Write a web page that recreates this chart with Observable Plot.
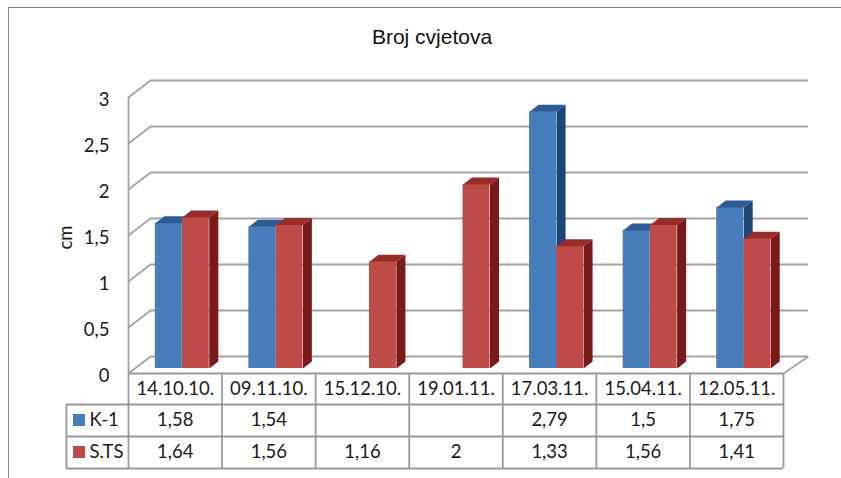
<!DOCTYPE html>
<html><head><meta charset="utf-8">
<script src="https://cdn.jsdelivr.net/npm/d3@7"></script>
<script src="https://cdn.jsdelivr.net/npm/@observablehq/plot@0.6"></script>
<style>
html,body{margin:0;padding:0;background:#fff;}
#wrap{position:relative;width:841px;height:478px;overflow:hidden;background:#fff;}
#frame{position:absolute;left:8px;top:7px;right:-3px;bottom:-3px;border-top:1.5px solid #8a8a8a;border-left:1.5px solid #8a8a8a;}
#title{position:absolute;top:26px;left:432px;transform:translateX(-50%);font:21px/21px "Liberation Sans",Arial,sans-serif;color:#111;white-space:nowrap;}
#chart{position:absolute;left:0;top:0;}
</style></head><body>
<div id="wrap"><div id="frame"></div><div id="chart"></div><div id="title"></div></div>
<script>
// ---- data ----
const chartTitle = "Broj cvjetova";
const yLabel = "cm";
const categories = ["14.10.10.", "09.11.10.", "15.12.10.", "19.01.11.", "17.03.11.", "15.04.11.", "12.05.11."];
const seriesNames = ["K-1", "S.TS"];
const k1Values = [1.58, 1.54, null, null, 2.79, 1.5, 1.75];
const stsValues = [1.64, 1.56, 1.16, 2, 1.33, 1.56, 1.41];
const yTicks = [0, 0.5, 1, 1.5, 2, 2.5, 3];

// ---- layout ----
const W = 841, H = 478, mL = 128, mR = 58, mT = 97, mB = 105;
const yMax = 3;
const kx = (W - mL - mR) / categories.length; // px per category
const ky = (H - mT - mB) / yMax;                // px per unit
const px = p => p / kx, py = p => p / ky;
const x0 = -0.5, xN = categories.length - 0.5;
const wallX = px(22), wallXR = px(25), wallY = py(17); // back wall depth
const barBase = py(5), barW = 27, barStart = -20, depX = px(9), depY = py(7);
const fmt = v => v == null ? "" : String(v).replace(".", ",");

const palette = [
  {front: "#467DBA", top: "#2D5C93", side: "#1D4674"},
  {front: "#BE4B48", top: "#972C2A", side: "#771A19"}
];
const seriesValues = [k1Values, stsValues];

document.getElementById("title").textContent = chartTitle;

const marks = [];
// back wall gridlines
marks.push(Plot.ruleY(yTicks, {y: d => d + wallY, x1: x0 + wallX, x2: xN + wallXR, stroke: "#a3a3a3", strokeWidth: 1.8}));
// diagonal tick connectors
marks.push(Plot.link(yTicks, {x1: x0, y1: d => d, x2: x0 + wallX, y2: d => d + wallY, stroke: "#a3a3a3", strokeWidth: 1.8}));
// floor right edge
marks.push(Plot.link([0], {x1: xN, y1: d => d, x2: xN + wallXR, y2: d => d + wallY, stroke: "#a3a3a3", strokeWidth: 1.8}));
// front axis
marks.push(Plot.ruleX([x0], {y1: 0, y2: yMax, stroke: "#a3a3a3", strokeWidth: 1.8}));

// bars
seriesValues.forEach((vals, si) => {
  const fronts = [], tops = [], sides = [];
  vals.forEach((v, i) => {
    if (v == null) return;
    const a = i + px(barStart + barW * si), b = i + px(barStart + barW * (si + 1));
    const yb = barBase, yt = v + barBase;
    fronts.push({x1: a, x2: b, y1: yb, y2: yt});
    const id = `${si}-${i}`;
    tops.push({id, x: a, y: yt}, {id, x: b, y: yt}, {id, x: b + depX, y: yt + depY}, {id, x: a + depX, y: yt + depY});
    sides.push({id, x: b, y: yb}, {id, x: b, y: yt}, {id, x: b + depX, y: yt + depY}, {id, x: b + depX, y: yb + depY});
  });
  marks.push(Plot.line(sides, {x: "x", y: "y", z: "id", fill: palette[si].side, stroke: "none"}));
  marks.push(Plot.rect(fronts, {x1: "x1", x2: "x2", y1: "y1", y2: "y2", fill: palette[si].front}));
  marks.push(Plot.line(tops, {x: "x", y: "y", z: "id", fill: palette[si].top, stroke: "none"}));
});

// data table
const rowEdges = [0, -py(31), -py(63), -py(95)];
const legendLeft = x0 - px(62);
const gridC = "#9a9a9a";
marks.push(Plot.ruleY([rowEdges[0]], {y: d => d, x1: x0, x2: xN, stroke: gridC, strokeWidth: 1.8}));
marks.push(Plot.ruleY(rowEdges.slice(1), {y: d => d, x1: legendLeft, x2: xN, stroke: gridC, strokeWidth: 1.8}));
marks.push(Plot.ruleX([legendLeft], {y1: rowEdges[1], y2: rowEdges[3], stroke: gridC, strokeWidth: 1.8}));
marks.push(Plot.ruleX(d3.range(categories.length + 1).map(k => x0 + k), {y1: rowEdges[0], y2: rowEdges[3], stroke: gridC, strokeWidth: 1.8}));
const rowMid = k => (rowEdges[k] + rowEdges[k + 1]) / 2;
marks.push(Plot.text(categories, {x: (d, i) => i, y: rowMid(0), text: d => d, fill: "#1a1a1a"}));
seriesValues.forEach((vals, si) => {
  marks.push(Plot.text(vals, {x: (d, i) => i, y: rowMid(si + 1), text: d => fmt(d), fill: "#1a1a1a"}));
});
// legend keys
marks.push(Plot.rect(seriesNames, {x1: x0 - px(55), x2: x0 - px(43), y1: (d, i) => rowMid(i + 1) - py(6), y2: (d, i) => rowMid(i + 1) + py(6), fill: (d, i) => palette[i].front}));
marks.push(Plot.text(seriesNames, {x: x0 - px(39), y: (d, i) => rowMid(i + 1), text: d => d, textAnchor: "start", fill: "#1a1a1a"}));

// y axis labels
marks.push(Plot.axisY(yTicks, {tickSize: 0, tickPadding: 19, tickFormat: fmt, dy: 3, fill: "#1a1a1a", label: null}));
// y title
marks.push(Plot.text([yLabel], {x: x0 - px(62), y: py(136), text: d => d, rotate: -90, fill: "#1a1a1a"}));

const chart = Plot.plot({
  width: W, height: H,
  marginLeft: mL, marginRight: mR, marginTop: mT, marginBottom: mB,
  x: {type: "linear", domain: [x0, xN], axis: null},
  y: {type: "linear", domain: [0, yMax], axis: null},
  style: {fontFamily: "Lato, 'Open Sans', sans-serif", fontSize: "18.5px", background: "transparent", overflow: "visible", color: "#1a1a1a"},
  marks
});
document.getElementById("chart").appendChild(chart);
</script>
</body></html>
